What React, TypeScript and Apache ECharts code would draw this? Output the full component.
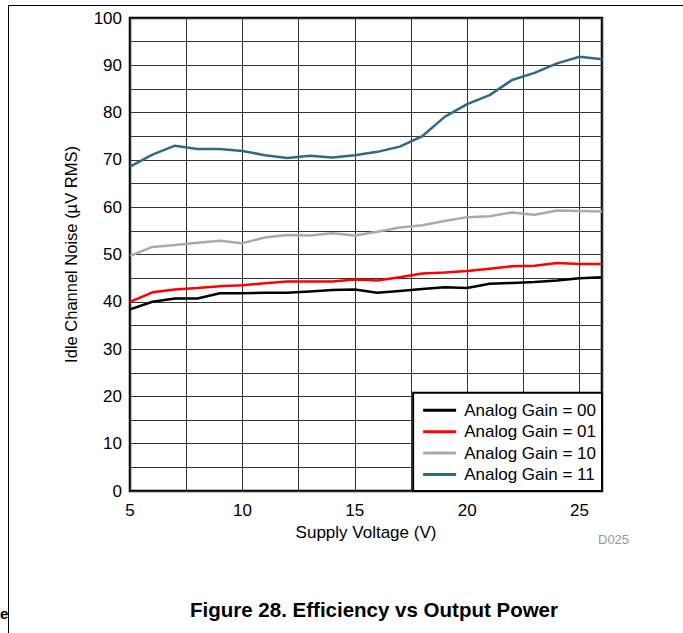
import React, { useEffect, useRef } from "react";
import * as echarts from "echarts";

const voltages = [5, 6, 7, 8, 9, 10, 11, 12, 13, 14, 15, 16, 17, 18, 19, 20, 21, 22, 23, 24, 25, 26];
const gain00 = [38.4, 40.0, 40.7, 40.7, 41.8, 41.8, 41.9, 41.9, 42.2, 42.5, 42.6, 41.9, 42.3, 42.7, 43.1, 42.9, 43.8, 44.0, 44.2, 44.5, 45.0, 45.2];
const gain01 = [40.0, 42.0, 42.6, 42.9, 43.3, 43.5, 43.9, 44.3, 44.3, 44.3, 44.7, 44.5, 45.2, 46.0, 46.2, 46.5, 47.0, 47.5, 47.6, 48.2, 48.0, 48.0];
const gain10 = [49.7, 51.6, 52.0, 52.5, 52.9, 52.4, 53.6, 54.1, 54.0, 54.5, 54.0, 54.8, 55.7, 56.2, 57.1, 57.9, 58.1, 58.9, 58.4, 59.3, 59.2, 59.1];
const gain11 = [68.6, 71.1, 73.0, 72.3, 72.3, 71.9, 71.0, 70.4, 70.9, 70.5, 71.0, 71.7, 72.8, 75.0, 79.1, 81.8, 83.7, 86.9, 88.4, 90.4, 91.8, 91.3];
const seriesNames = ["Analog Gain = 00", "Analog Gain = 01", "Analog Gain = 10", "Analog Gain = 11"];
const seriesColors = ["#000000", "#ff0000", "#aaaaaa", "#2f6a86"];

const FONT = "'Liberation Sans', Arial, Helvetica, sans-serif";

export default function App() {
  const ref = useRef<HTMLDivElement>(null);
  useEffect(() => {
    if (!ref.current) return;
    const chart = echarts.init(ref.current, undefined, { renderer: "svg" });
    const all = [gain00, gain01, gain10, gain11];
    chart.setOption({
      animation: false,
      backgroundColor: "#ffffff",
      textStyle: { fontFamily: FONT },
      grid: {
        left: 130,
        right: 81,
        top: 18,
        bottom: 142,
        show: true,
        borderColor: "#000",
        borderWidth: 2.5,
        backgroundColor: "transparent",
      },
      xAxis: {
        type: "value",
        min: 5,
        max: 26,
        interval: 2.5,
        name: "Supply Voltage (V)",
        nameLocation: "middle",
        nameGap: 33,
        nameTextStyle: { fontSize: 17, color: "#000", fontFamily: FONT },
        axisLine: { show: false },
        axisTick: { show: false },
        axisLabel: {
          fontSize: 17,
          color: "#000",
          margin: 11,
          fontFamily: FONT,
          formatter: (v: number) => (v % 5 === 0 ? String(v) : ""),
        },
        splitLine: { show: true, lineStyle: { color: "#333", width: 1 } },
      },
      yAxis: {
        type: "value",
        min: 0,
        max: 100,
        interval: 5,
        name: "Idle Channel Noise (\u00b5V RMS)",
        nameLocation: "middle",
        nameGap: 51,
        nameTextStyle: { fontSize: 16.5, color: "#000", fontFamily: FONT },
        axisLine: { show: false },
        axisTick: { show: false },
        axisLabel: {
          fontSize: 17,
          color: "#000",
          margin: 8,
          fontFamily: FONT,
          formatter: (v: number) => (v % 10 === 0 ? String(v) : ""),
        },
        splitLine: { show: true, lineStyle: { color: "#333", width: 1 } },
      },
      legend: {
        orient: "vertical",
        right: 81,
        bottom: 142,
        backgroundColor: "#fff",
        borderColor: "#000",
        borderWidth: 2,
        padding: [9, 6, 8, 10],
        itemGap: 4.4,
        itemWidth: 33,
        itemHeight: 3,
        icon: "rect",
        textStyle: { fontSize: 17, color: "#000", fontFamily: FONT, lineHeight: 16, padding: [0, 0, 0, 3] },
        data: seriesNames,
      },
      series: all.map((vals, i) => ({
        name: seriesNames[i],
        type: "line",
        data: voltages.map((v, j) => [v, vals[j]]),
        showSymbol: false,
        symbol: "none",
        lineStyle: { color: seriesColors[i], width: 2.5 },
        itemStyle: { color: seriesColors[i] },
        z: 3,
      })),
      graphic: [
        { type: "line", shape: { x1: 8, y1: 5.5, x2: 683, y2: 5.5 }, style: { stroke: "#000", lineWidth: 1 } },
        { type: "line", shape: { x1: 8.5, y1: 5, x2: 8.5, y2: 633 }, style: { stroke: "#000", lineWidth: 1 } },
        {
          type: "text",
          left: 598,
          top: 533,
          style: { text: "D025", fontSize: 13, fill: "#999", fontFamily: FONT },
        },
        {
          type: "text",
          x: 374,
          y: 609,
          style: {
            text: "Figure 28. Efficiency vs Output Power",
            fontSize: 20.5,
            fontWeight: "bold",
            fill: "#000",
            fontFamily: FONT,
            align: "center",
            verticalAlign: "middle",
          },
        },
        {
          type: "text",
          x: 0,
          y: 613,
          style: {
            text: "e",
            fontSize: 15,
            fontWeight: "bold",
            fill: "#000",
            fontFamily: FONT,
            verticalAlign: "middle",
          },
        },
      ],
    });
    return () => chart.dispose();
  }, []);
  return (
    <div
      ref={ref}
      style={{ position: "fixed", left: 0, top: 0, width: 683, height: 633, background: "#fff" }}
    />
  );
}
